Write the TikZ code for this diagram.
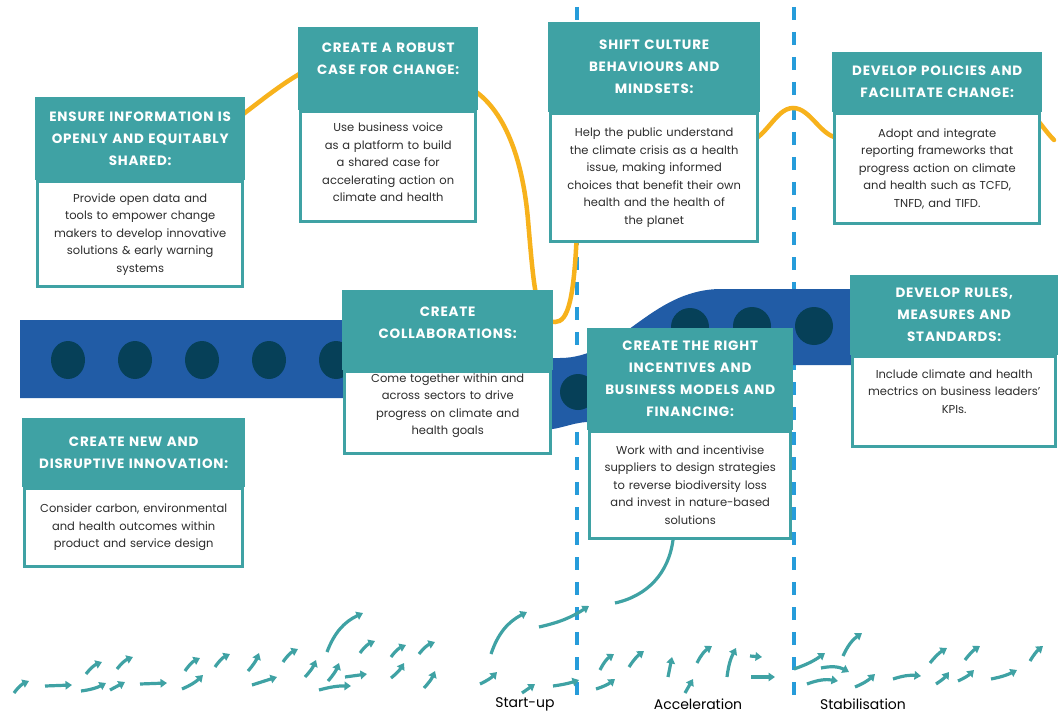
\documentclass[tikz,border=0pt]{standalone}
\usepackage{fontspec}
\setmainfont{Poppins}
\usetikzlibrary{positioning,arrows.meta}
\definecolor{cardteal}{RGB}{63,162,164}
\definecolor{bandblue}{RGB}{33,92,166}
\definecolor{dotblue}{RGB}{6,64,88}
\definecolor{waveyellow}{RGB}{247,178,28}
\definecolor{phaseblue}{RGB}{38,156,218}
\definecolor{bodygray}{RGB}{45,45,45}
\begin{document}
\begin{tikzpicture}[x=1pt,y=-1pt,
	head/.style={fill=cardteal,text=white,align=center,inner sep=0pt,anchor=north west,
		font=\fontsize{13.5pt}{22pt}\selectfont\bfseries\addfontfeatures{LetterSpace=6}},
	body/.style={draw=cardteal,line width=2.5pt,fill=white,text=bodygray,align=center,inner sep=0pt,
		font=\fontsize{11.5pt}{17.5pt}\selectfont},
	phase/.style={draw=phaseblue,line width=3.5pt,dash pattern=on 13pt off 12pt},
	wave/.style={draw=waveyellow,line width=4.5pt,line cap=round},
	flow/.style={draw=cardteal,line width=3.2pt,-{Triangle[length=6.5pt,width=8.5pt]}},
	stage/.style={font=\fontsize{14pt}{16pt}\selectfont,text=black}]
	\useasboundingbox (0,0) rectangle (1059,714);
	% phase borders
	\draw[phase] (577,7) -- (577,702);
	\draw[phase] (794,7) -- (794,702);
	% band
	\fill[bandblue] (20,320) -- (400,320) .. controls (440,320) and (470,358) .. (520,358) -- (560,358)
		.. controls (620,358) and (650,290) .. (720,289) -- (860,289) -- (860,365) -- (790,365)
		.. controls (700,365) and (650,420) .. (587,422) .. controls (570,423) and (560,430) .. (540,430)
		-- (470,430) .. controls (430,430) and (430,398) .. (390,398) -- (20,398) -- cycle;
	\foreach \x in {68,135,202,269,336}
		\fill[dotblue] (\x,360) ellipse [x radius=17pt,y radius=19pt];
	\fill[dotblue] (578,392) circle (18pt);
	\fill[dotblue] (690,327) circle (19pt);
	\fill[dotblue] (752,326) circle (19pt);
	\fill[dotblue] (814,326) circle (19pt);
	% yellow line
	\draw[wave] (230,124) .. controls (260,102) and (280,84) .. (310,68);
	\draw[wave] (470,88) .. controls (500,105) and (522,150) .. (528,220)
		.. controls (534,290) and (536,322) .. (555,322)
		.. controls (568,322) and (574,300) .. (577,230);
	\draw[wave] (745,142) .. controls (765,142) and (775,108) .. (793,108)
		.. controls (811,108) and (821,138) .. (840,138);
	\draw[wave] (1030,112) .. controls (1040,122) and (1046,132) .. (1054,140);
	% arrows
	\draw[flow] (14,693) to[bend left=15] (29,681);
	\draw[flow] (45,686) -- (72,685);
	\draw[flow] (81,691) to[bend right=10] (106,683);
	\draw[flow] (86,674) to[bend left=15] (102,662);
	\draw[flow] (110,690) -- (125,682);
	\draw[flow] (117,669) to[bend left=15] (133,657);
	\draw[flow] (140,684) -- (167,683);
	\draw[flow] (182,689) to[bend right=10] (203,675);
	\draw[flow] (185,671) to[bend left=15] (200,658);
	\draw[flow] (215,667) to[bend left=15] (230,654);
	\draw[flow] (248,671) to[bend right=10] (259,653);
	\draw[flow] (252,685) -- (277,677);
	\draw[flow] (283,662) to[bend left=15] (298,649);
	\draw[flow] (305,677) to[bend right=10] (316,660);
	\draw[flow] (327,652) to[bend left=22] (363,613);
	\draw[flow] (328,681) to[bend right=10] (339,663);
	\draw[flow] (319,690) to[bend left=8] (351,686);
	\draw[flow] (345,677) -- (367,674);
	\draw[flow] (360,653) to[bend left=15] (375,641);
	\draw[flow] (391,657) to[bend left=15] (406,645);
	\draw[flow] (391,678) to[bend right=10] (404,663);
	\draw[flow] (419,654) to[bend left=15] (435,642);
	\draw[flow] (424,688) to[bend right=10] (435,671);
	\draw[flow] (480,684) to[bend right=10] (497,672);
	\draw[flow] (491,654) to[bend left=22] (527,612);
	\draw[flow] (539,627) to[bend right=10] (589,606);
	\draw[flow] (522,693) -- (535,684);
	\draw[flow] (553,686) to[bend right=5] (579,680);
	\draw[flow] (596,689) to[bend right=10] (615,679);
	\draw[flow] (600,670) to[bend left=15] (614,654);
	\draw[flow] (629,667) to[bend left=10] (644,651);
	\draw[flow] (668,677) -- (672,657);
	\draw[flow] (685,693) -- (693,679);
	\draw[flow] (697,663) to[bend left=15] (712,646);
	\draw[flow] (727,677) to[bend left=10] (736,648);
	\draw[flow] (750,656) -- (762,657);
	\draw[flow] (751,677) -- (775,677);
	\draw[flow] (794,669) to[bend right=8] (825,653);
	\draw[flow] (843,656) to[bend left=15] (862,633);
	\draw[flow] (821,668) to[bend left=20] (849,672);
	\draw[flow] (807,684) to[bend left=15] (838,681);
	\draw[flow] (855,687) to[bend right=10] (875,674);
	\draw[flow] (893,679) to[bend left=12] (921,676);
	\draw[flow] (930,663) to[bend left=10] (947,648);
	\draw[flow] (936,684) to[bend right=10] (949,672);
	\draw[flow] (965,660) to[bend left=10] (980,646);
	\draw[flow] (958,681) to[bend right=10] (974,670);
	\draw[flow] (991,679) to[bend right=8] (1017,670);
	\draw[flow] (1030,661) to[bend left=10] (1043,646);
	% cards
	\node[head,minimum width=210pt,text width=206pt,minimum height=83pt] (ensH) at (35,97)
		{ENSURE INFORMATION IS\\OPENLY AND EQUITABLY\\SHARED:};
	\node[body,minimum width=205pt,text width=196pt,minimum height=105pt,below=0pt of ensH] (ensB)
		{Provide open data and\\tools to empower change\\makers to develop innovative\\solutions \& early warning\\systems};
	\node[head,minimum width=180pt,text width=176pt,minimum height=83pt,text depth=42pt] (robH) at (298,27)
		{CREATE A ROBUST\\CASE FOR CHANGE:};
	\node[body,minimum width=175pt,text width=166pt,minimum height=110pt,text depth=79pt,below=0pt of robH] (robB)
		{Use business voice\\as a platform to build\\a shared case for\\accelerating action on\\climate and health};
	\node[head,minimum width=212pt,text width=206pt,minimum height=90pt] (cultH) at (548,22)
		{SHIFT CULTURE\\BEHAVIOURS AND\\MINDSETS:};
	\node[body,minimum width=207pt,text width=200pt,minimum height=128pt,below=0pt of cultH] (cultB)
		{Help the public understand\\the climate crisis as a health\\issue, making informed\\choices that benefit their own\\health and the health of\\the planet};
	\node[head,minimum width=210pt,text width=206pt,minimum height=60pt] (polH) at (832,52)
		{DEVELOP POLICIES AND\\FACILITATE CHANGE:};
	\node[body,minimum width=205pt,text width=198pt,minimum height=110pt,below=0pt of polH] (polB)
		{Adopt and integrate\\reporting frameworks that\\progress action on climate\\and health such as TCFD,\\TNFD, and TIFD.};
	\node[head,minimum width=211pt,text width=206pt,minimum height=80pt,text depth=36pt] (colH) at (342,290)
		{CREATE\\COLLABORATIONS:};
	\node[body,minimum width=206pt,text width=198pt,minimum height=82pt,text depth=70pt,below=0pt of colH] (colB)
		{Come together within and\\across sectors to drive\\progress on climate and\\health goals};
	\node[head,minimum width=206pt,text width=204pt,minimum height=102pt] (incH) at (587,328)
		{CREATE THE RIGHT\\INCENTIVES AND\\BUSINESS MODELS AND\\FINANCING:};
	\node[body,minimum width=201pt,text width=196pt,minimum height=107pt,below=0pt of incH] (incB)
		{Work with and incentivise\\suppliers to design strategies\\to reverse biodiversity loss\\and invest in nature-based\\solutions};
	\node[head,minimum width=208pt,text width=204pt,minimum height=80pt] (rulH) at (850,275)
		{DEVELOP RULES,\\MEASURES AND\\STANDARDS:};
	\node[body,minimum width=203pt,text width=198pt,minimum height=90pt,text depth=56pt,below=0pt of rulH] (rulB)
		{Include climate and health\\mectrics on business leaders’\\KPIs.};
	\node[head,minimum width=223pt,text width=221pt,minimum height=69pt] (newH) at (22,418)
		{CREATE NEW AND\\DISRUPTIVE INNOVATION:};
	\node[body,minimum width=218pt,text width=214pt,minimum height=78pt,below=0pt of newH] (newB)
		{Consider carbon, environmental\\and health outcomes within\\product and service design};
	% line out of the incentives card
	\coordinate (incEnd) at (615,603);
	\draw[draw=cardteal,line width=3.2pt] (incB.south -| 673,0) to[bend left=35] (incEnd);
	% stages
	\node[stage] (startup) at (525,704) {Start-up};
	\node[stage] (accel) at (698,704) {Acceleration};
	\node[stage] (stab) at (863,704) {Stabilisation};
\end{tikzpicture}
\end{document}
